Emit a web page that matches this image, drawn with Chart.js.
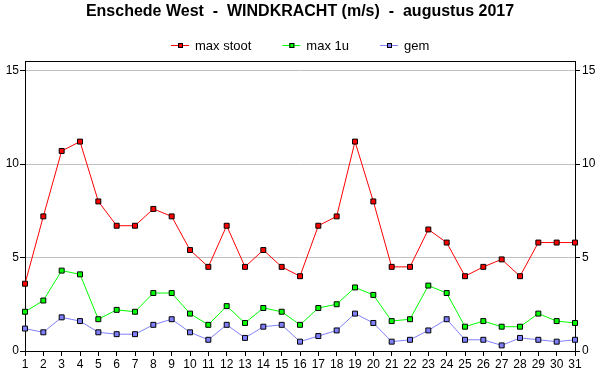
<!DOCTYPE html>
<html>
<head>
<meta charset="utf-8">
<script src="https://cdn.jsdelivr.net/npm/chart.js@4/dist/chart.umd.min.js"></script>
<style>
  html, body { margin: 0; padding: 0; background: #fff; }
  #wrap { width: 600px; height: 390px; }
</style>
</head>
<body>
<div id="wrap"><canvas id="chart" width="600" height="390"></canvas></div>
<script>
const days = ['1','2','3','4','5','6','7','8','9','10','11','12','13','14','15','16','17','18','19','20','21','22','23','24','25','26','27','28','29','30','31']
const maxStoot = [3.6, 7.2, 10.7, 11.2, 8.0, 6.7, 6.7, 7.6, 7.2, 5.4, 4.5, 6.7, 4.5, 5.4, 4.5, 4.0, 6.7, 7.2, 11.2, 8.0, 4.5, 4.5, 6.5, 5.8, 4.0, 4.5, 4.9, 4.0, 5.8, 5.8, 5.8]
const max1u = [2.1, 2.7, 4.3, 4.1, 1.7, 2.2, 2.1, 3.1, 3.1, 2.0, 1.4, 2.4, 1.5, 2.3, 2.1, 1.4, 2.3, 2.5, 3.4, 3.0, 1.6, 1.7, 3.5, 3.1, 1.3, 1.6, 1.3, 1.3, 2.0, 1.6, 1.5]
const gem = [1.2, 1.0, 1.8, 1.6, 1.0, 0.9, 0.9, 1.4, 1.7, 1.0, 0.6, 1.4, 0.7, 1.3, 1.4, 0.5, 0.8, 1.1, 2.0, 1.5, 0.5, 0.6, 1.1, 1.7, 0.6, 0.6, 0.3, 0.7, 0.6, 0.5, 0.6]
const yTicks = [0, 5, 10, 15]

const font = 'Liberation Sans, Arial, sans-serif'

function series(label, data, color) {
  return {
    label: label,
    data: data,
    borderColor: color,
    backgroundColor: color,
    borderWidth: 1,
    tension: 0,
    pointStyle: 'rect',
    pointRadius: 3.5,
    pointHoverRadius: 3.5,
    pointBackgroundColor: color,
    pointBorderColor: '#000',
    pointBorderWidth: 1
  }
}

// top edge of the plot box (the other sides are axis borders)
const frame = {
  id: 'frame',
  afterDatasetsDraw(chart) {
    const a = chart.chartArea
    const ctx = chart.ctx
    const y = Math.round(a.top) + 0.5
    ctx.save()
    ctx.strokeStyle = '#000'
    ctx.lineWidth = 1
    ctx.beginPath()
    ctx.moveTo(a.left, y)
    ctx.lineTo(a.right, y)
    ctx.stroke()
    ctx.restore()
  }
}

// legend: line + square marker + text, centered
const lineLegend = {
  id: 'lineLegend',
  afterDraw(chart) {
    const ctx = chart.ctx
    const sets = chart.data.datasets
    ctx.save()
    ctx.font = '13px ' + font
    ctx.textBaseline = 'middle'
    const lineW = 18, gapText = 6, gapItem = 31
    let total = 0
    sets.forEach((ds, i) => {
      total += lineW + gapText + ctx.measureText(ds.label).width
      if (i > 0) total += gapItem
    })
    let x = Math.round(300 - total / 2)
    const y = 45
    sets.forEach(ds => {
      ctx.strokeStyle = ds.borderColor
      ctx.lineWidth = 1
      ctx.beginPath()
      ctx.moveTo(x, y + 0.5)
      ctx.lineTo(x + lineW, y + 0.5)
      ctx.stroke()
      const cx = x + lineW / 2
      ctx.fillStyle = ds.borderColor
      ctx.fillRect(cx - 2, y - 2, 5, 5)
      ctx.strokeStyle = '#000'
      ctx.strokeRect(cx - 2 + 0.5, y - 2 + 0.5, 4, 4)
      ctx.fillStyle = '#000'
      ctx.fillText(ds.label, x + lineW + gapText, y + 1)
      x += lineW + gapText + ctx.measureText(ds.label).width + gapItem
    })
    ctx.restore()
  }
}

function keepTicks(scale) {
  scale.ticks = yTicks.map(v => ({ value: v }))
}

new Chart(document.getElementById('chart'), {
  type: 'line',
  data: {
    labels: days,
    datasets: [
      series('max stoot', maxStoot, '#ff0000'),
      series('max 1u', max1u, '#00ff00'),
      series('gem', gem, '#8080ff')
    ]
  },
  options: {
    responsive: false,
    animation: false,
    layout: { padding: 0 },
    plugins: {
      legend: { display: false },
      tooltip: { enabled: false },
      title: {
        display: true,
        text: 'Enschede West  -  WINDKRACHT (m/s)  -  augustus 2017',
        color: '#000',
        font: { family: font, size: 16, weight: 'bold' },
        padding: { top: 2, bottom: 40 }
      }
    },
    scales: {
      x: {
        offset: false,
        grid: { drawOnChartArea: false, drawTicks: true, tickLength: 5, tickColor: '#000' },
        border: { color: '#000', width: 1 },
        ticks: { color: '#000', font: { family: font, size: 12 }, padding: 1, autoSkip: false, maxRotation: 0 },
        afterFit(scale) { scale.height = 39 }
      },
      y: {
        position: 'left',
        min: 0,
        max: 15.5,
        afterBuildTicks: keepTicks,
        grid: { color: '#c0c0c0', tickColor: '#000', tickLength: 5 },
        border: { color: '#000', width: 1 },
        ticks: { color: '#000', font: { family: font, size: 12 }, padding: 1 },
        afterFit(scale) { scale.width = 25 }
      },
      y2: {
        position: 'right',
        min: 0,
        max: 15.5,
        afterBuildTicks: keepTicks,
        grid: { drawOnChartArea: false, tickColor: '#000', tickLength: 5 },
        border: { color: '#000', width: 1 },
        ticks: { color: '#000', font: { family: font, size: 12 }, padding: 2 },
        afterFit(scale) { scale.width = 25 }
      }
    }
  },
  plugins: [frame, lineLegend]
})
</script>
</body>
</html>
